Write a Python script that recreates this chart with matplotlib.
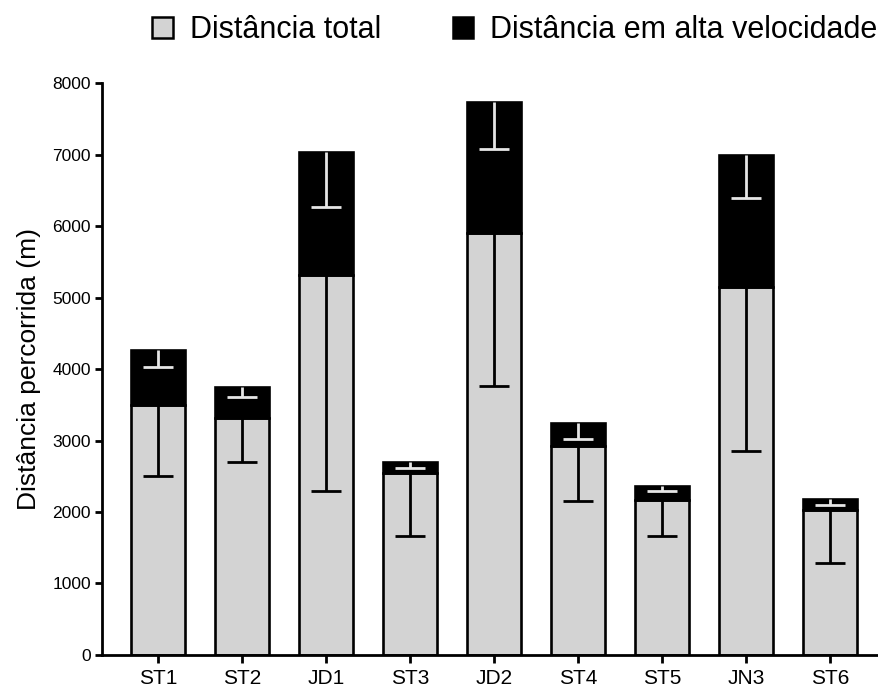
import matplotlib
matplotlib.use('Agg')
import matplotlib.pyplot as plt
from matplotlib.patches import Patch
import numpy as np

plt.rcParams['font.family'] = ['Liberation Sans', 'DejaVu Sans']

# data (m)
categories = ['ST1', 'ST2', 'JD1', 'ST3', 'JD2', 'ST4', 'ST5', 'JN3', 'ST6']
total_dist = [3500, 3320, 5320, 2540, 5900, 2920, 2165, 5150, 2030]
total_sd = [990, 620, 3020, 875, 2140, 770, 500, 2300, 740]
high_speed = [770, 435, 1720, 155, 1840, 325, 200, 1850, 150]
high_speed_sd = [245, 150, 770, 85, 655, 225, 65, 605, 85]

x = np.arange(len(categories))
total_dist = np.array(total_dist)
high_speed = np.array(high_speed)

fig = plt.figure(figsize=(8.79, 6.9), dpi=100)
ax = fig.add_axes([0.116, 0.051, 0.884, 0.828])

bar_w = 0.64
lw = 1.9


def lower_errorbar(ypos, err, color):
    # only the lower half of the error bar, as in the original
    _, caps, _ = ax.errorbar(x, ypos, yerr=[err, np.zeros(len(x))], fmt='none',
                             ecolor=color, elinewidth=2, capsize=11, capthick=2, zorder=3)
    caps[1].set_visible(False)


# grey bars (total) with black downward error bars
ax.bar(x, total_dist, width=bar_w, color='#d3d3d3', edgecolor='black', linewidth=lw, zorder=2)
lower_errorbar(total_dist, total_sd, 'black')

# black bars stacked on top, with white downward error bars
ax.bar(x, high_speed, bottom=total_dist, width=bar_w, color='black', edgecolor='black',
       linewidth=lw, zorder=2)
lower_errorbar(total_dist + high_speed, high_speed_sd, '#e6e6e6')

ax.set_xlim(-0.667, 8.58)
ax.set_ylim(0, 8000)
ax.set_yticks(range(0, 8001, 1000))
ax.set_xticks(x)
ax.set_xticklabels(categories, fontsize=15)
ax.tick_params(axis='y', labelsize=12.5, length=5, width=2, pad=3)
ax.tick_params(axis='x', length=6, width=2, pad=4)

for side in ['top', 'right']:
    ax.spines[side].set_visible(False)
for side in ['left', 'bottom']:
    ax.spines[side].set_linewidth(2)

ax.set_ylabel('Distância percorrida (m)', fontsize=19, labelpad=8)

handles = [Patch(facecolor='#d3d3d3', edgecolor='black', linewidth=1.8, label='Distância total'),
           Patch(facecolor='black', edgecolor='black', linewidth=1.8, label='Distância em alta velocidade')]
fig.legend(handles=handles, loc='upper left', bbox_to_anchor=(152 / 879, 1 - 15 / 690),
           ncol=2, frameon=False, fontsize=22, handlelength=0.68, handleheight=0.68,
           handletextpad=0.55, columnspacing=2.35, borderpad=0, borderaxespad=0)

fig.savefig('out.png', dpi=100)
